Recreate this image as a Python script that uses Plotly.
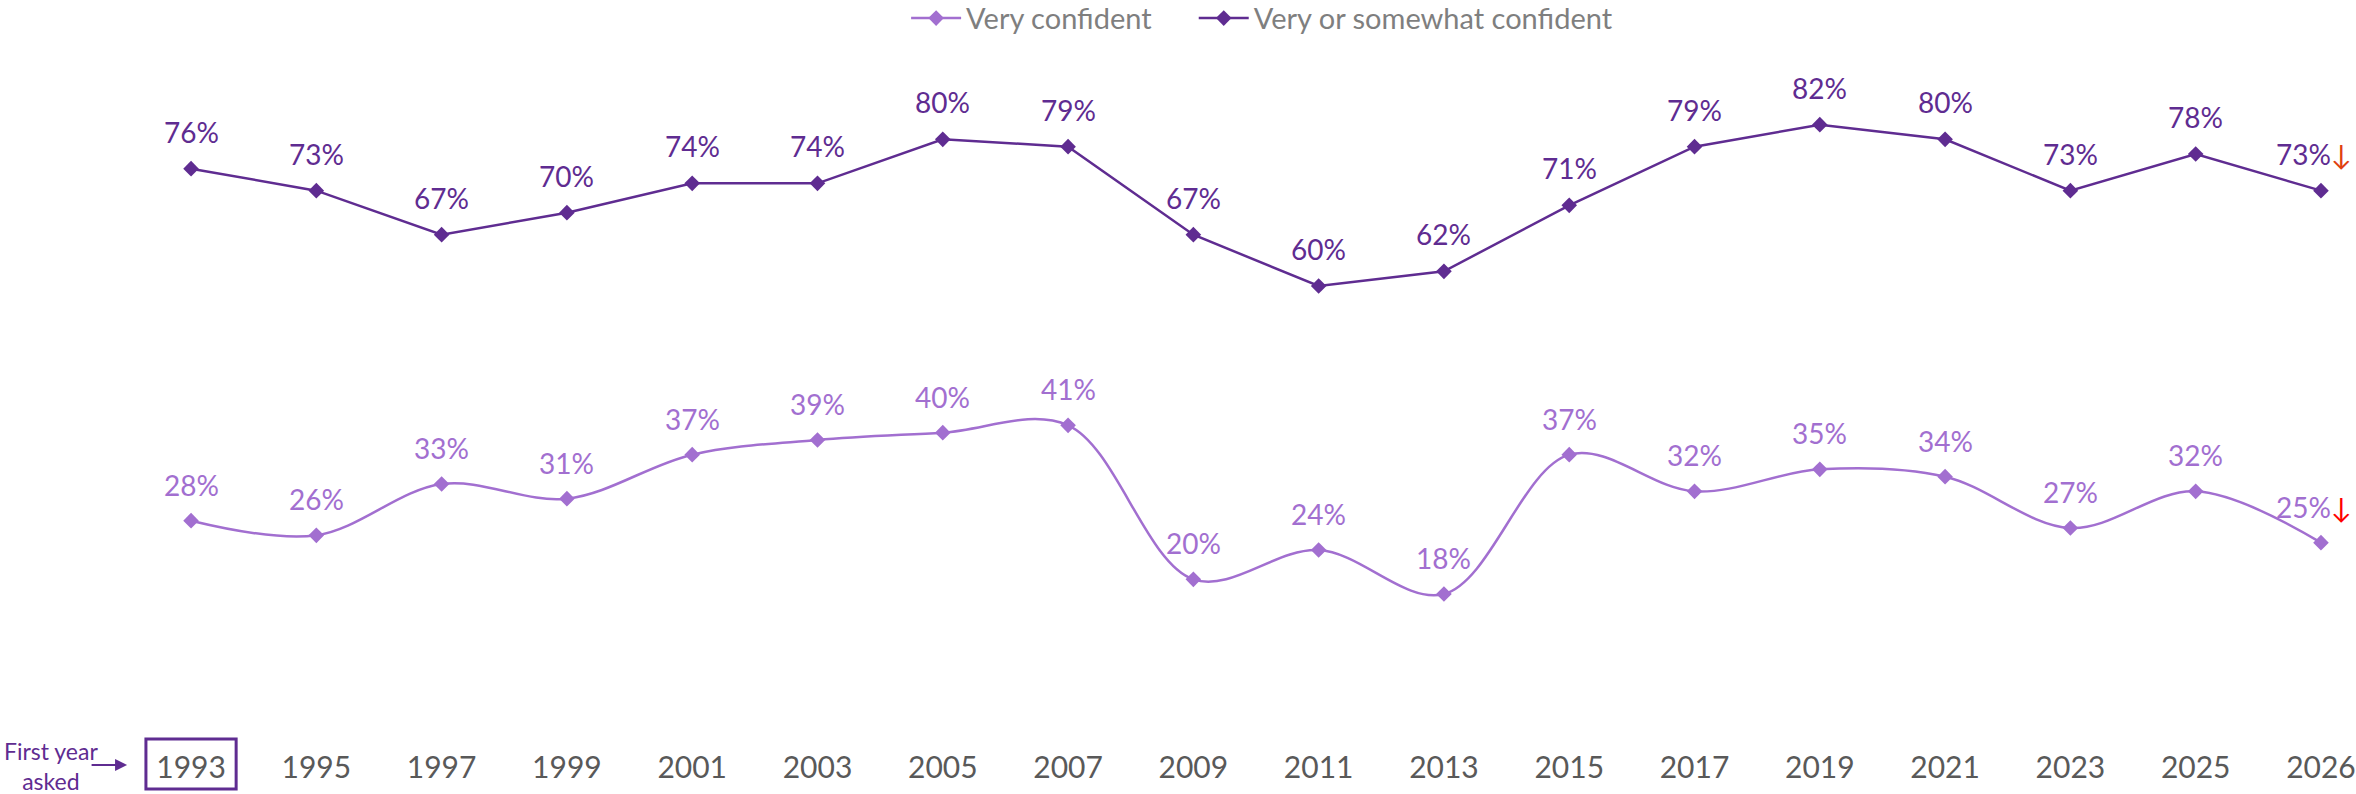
import plotly.graph_objects as go

years = ["1993", "1995", "1997", "1999", "2001", "2003", "2005", "2007", "2009",
         "2011", "2013", "2015", "2017", "2019", "2021", "2023", "2025", "2026"]
very_confident = [28, 26, 33, 31, 37, 39, 40, 41, 20, 24, 18, 37, 32, 35, 34, 27, 32, 25]
very_or_somewhat = [76, 73, 67, 70, 74, 74, 80, 79, 67, 60, 62, 71, 79, 82, 80, 73, 78, 73]

DARK = "#5F2C91"
LIGHT = "#A26FD0"
FONT = "Lato"

fig = go.Figure()
fig.add_trace(go.Scatter(
    x=years, y=very_confident, name="Very confident" + "\u00a0" * 5, mode="lines+markers",
    line=dict(color=LIGHT, width=2.5, shape="spline", smoothing=1.0),
    marker=dict(symbol="diamond", size=12, color=LIGHT)))
fig.add_trace(go.Scatter(
    x=years, y=very_or_somewhat, name="Very or somewhat confident", mode="lines+markers",
    line=dict(color=DARK, width=2.5),
    marker=dict(symbol="diamond", size=12, color=DARK)))

annotations = []
n = len(years)
for i, v in enumerate(very_or_somewhat):
    txt = f"{v}%"
    xs = 0
    if i == n - 1:
        txt += "<span style='color:#E04010'>↓</span>"
        xs = -7
    annotations.append(dict(x=i, y=v, xref="x", yref="y", text=txt, showarrow=False,
                            yshift=37, xshift=xs,
                            font=dict(family=FONT, size=28, color=DARK)))
for i, v in enumerate(very_confident):
    txt = f"{v}%"
    xs = 0
    if i == n - 1:
        txt += "<span style='color:#FF0000'>↓</span>"
        xs = -7
    annotations.append(dict(x=i, y=v, xref="x", yref="y", text=txt, showarrow=False,
                            yshift=36, xshift=xs,
                            font=dict(family=FONT, size=28, color=LIGHT)))

# "First year asked" note
annotations.append(dict(xref="paper", yref="paper", x=-0.031, y=-0.0606,
                        xanchor="center", yanchor="middle",
                        text="First year<br>asked", showarrow=False, align="center",
                        font=dict(family=FONT, size=23, color=DARK)))
annotations.append(dict(xref="paper", yref="paper", x=0.0032, y=-0.059,
                        axref="pixel", ayref="pixel", ax=-37, ay=0,
                        text="", showarrow=True, arrowhead=2, arrowsize=1.2,
                        arrowwidth=2, arrowcolor=DARK))

fig.update_layout(
    width=2356, height=794,
    paper_bgcolor="white", plot_bgcolor="white",
    margin=dict(l=120, r=20, t=66, b=68, autoexpand=False),
    font=dict(family=FONT, color="#595959"),
    showlegend=True,
    legend=dict(orientation="h", x=0.5357, xref="container", xanchor="center",
                y=0.977, yref="container", yanchor="middle",
                font=dict(family=FONT, size=29, color="#7F7F7F"),
                itemwidth=50),
    xaxis=dict(type="category", range=[-0.567, 17.12], showgrid=False,
               zeroline=False, showline=False, ticks="outside", ticklen=15,
               tickcolor="rgba(0,0,0,0)", automargin=False,
               tickfont=dict(family=FONT, size=30, color="#595959")),
    yaxis=dict(range=[0, 90], visible=False, showgrid=False, zeroline=False,
               automargin=False),
    annotations=annotations,
    shapes=[dict(type="rect", xref="x", yref="paper", x0=-0.36, x1=0.36,
                 y0=-0.0955, y1=-0.0197, line=dict(color=DARK, width=3),
                 fillcolor="rgba(0,0,0,0)")],
)

fig.write_html("out.html", config={"displayModeBar": False},
               post_script="document.body.style.margin='0';document.body.style.overflow='hidden';")
